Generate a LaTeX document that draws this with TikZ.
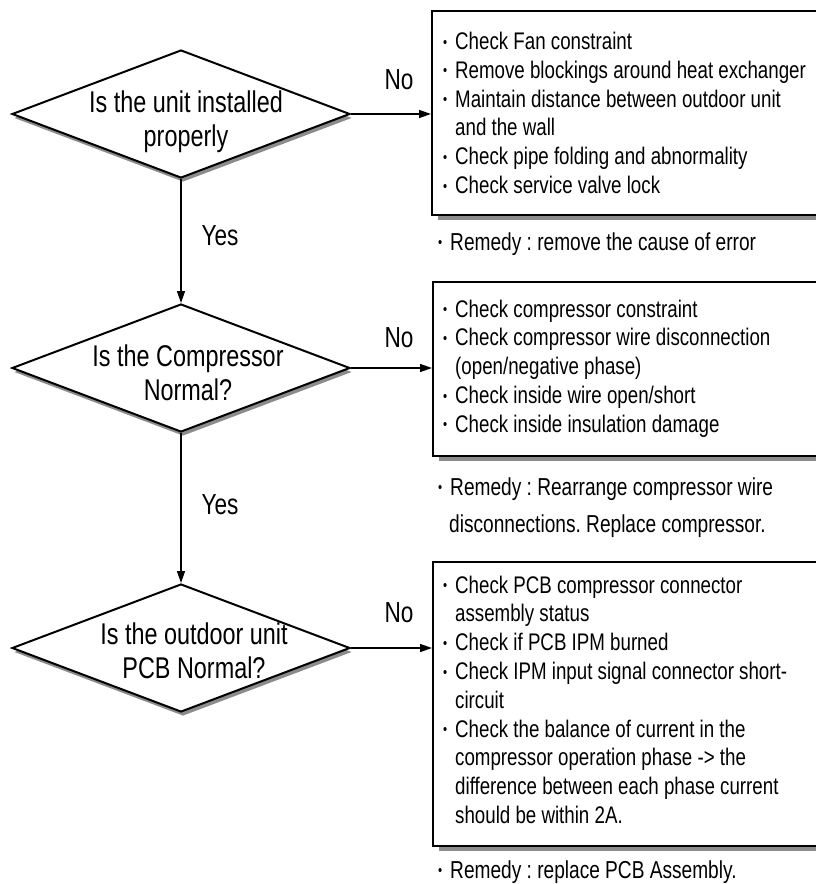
\documentclass[tikz,border=0pt]{standalone}
\usepackage{fontspec}
\setmainfont{Liberation Sans}[FakeStretch=0.78]
\usetikzlibrary{shapes.geometric,shadows,arrows.meta}
\newcommand\bulx{\makebox[12pt][l]{\raisebox{2.4pt}{\fontsize{15}{15}\selectfont\textbullet}}}
\newcommand\indx{\hspace*{12pt}}
\frenchspacing
\begin{document}
\begin{tikzpicture}[x=1pt,y=-1pt,
  dia/.style={shape=diamond, draw, line width=2pt, fill=white, minimum width=338pt, minimum height=128pt, inner sep=0pt,
    drop shadow={shadow xshift=2pt, shadow yshift=-4pt, fill=black!45, opacity=1}},
  boxs/.style={shape=rectangle, draw, line width=2.2pt, fill=white, inner sep=0pt, minimum width=400pt,
    drop shadow={shadow xshift=6pt, shadow yshift=-5pt, fill=black!45, opacity=1}},
  dtext/.style={inner sep=0pt, font=\fontsize{30}{34}\selectfont},
  btext/.style={inner sep=0pt, font=\fontsize{24}{28.8}\selectfont},
  rtext/.style={inner sep=0pt, font=\fontsize{24.5}{37}\selectfont},
  lbl/.style={inner sep=0pt, font=\fontsize{29}{29}\selectfont},
  arr/.style={line width=1.5pt, -{Triangle[length=12pt,width=8pt]}}
]
\useasboundingbox (0,0) rectangle (816,884);

% decisions
\node[dia] (d1) at (181,114) {};
\node[dia] (d2) at (181,368) {};
\node[dia] (d3) at (181,648) {};
\node[dtext, anchor=base] (q1) at (186,112) {\parbox[t]{260pt}{\centering Is the unit installed\\properly}};
\node[dtext, anchor=base] (q2) at (188,366) {\parbox[t]{260pt}{\centering Is the Compressor\\Normal?}};
\node[dtext, anchor=base] (q3) at (194,644) {\parbox[t]{260pt}{\centering Is the outdoor unit\\PCB Normal?}};

% boxes
\node[boxs, minimum height=204pt, anchor=north west] (b1) at (431,10) {};
\node[boxs, minimum height=174pt, anchor=north west] (b2) at (432,281) {};
\node[boxs, minimum height=284pt, anchor=north west] (b3) at (432,561) {};

\node[btext, anchor=base west] (t1) at (443,49.5) {\parbox[t]{370pt}{\raggedright
\bulx Check Fan constraint\\
\bulx Remove blockings around heat exchanger\\
\bulx Maintain distance between outdoor unit\\
\indx and the wall\\
\bulx Check pipe folding and abnormality\\
\bulx Check service valve lock}};

\node[btext, anchor=base west] (t2) at (443,317) {\parbox[t]{370pt}{\raggedright
\bulx Check compressor constraint\\
\bulx Check compressor wire disconnection\\
\indx (open/negative phase)\\
\bulx Check inside wire open/short\\
\bulx Check inside insulation damage}};

\node[btext, anchor=base west] (t3) at (443,593) {\parbox[t]{370pt}{\raggedright
\bulx Check PCB compressor connector\\
\indx assembly status\\
\bulx Check if PCB IPM burned\\
\bulx Check IPM input signal connector short-\\
\indx circuit\\
\bulx Check the balance of current in the\\
\indx compressor operation phase -> the\\
\indx difference between each phase current\\
\indx should be within 2A.}};

% remedies
\node[rtext, anchor=base west] (r1) at (438,250) {\parbox[t]{380pt}{\raggedright\bulx Remedy : remove the cause of error}};
\node[rtext, anchor=base west] (r2) at (438,495) {\parbox[t]{380pt}{\raggedright\bulx Remedy : Rearrange compressor wire\\\hspace*{11pt}disconnections. Replace compressor.}};
\node[rtext, anchor=base west] (r3) at (438,878) {\parbox[t]{380pt}{\raggedright\bulx Remedy : replace PCB Assembly.}};

% connectors
\draw[arr] (d1.east) -- (d1.east -| b1.west);
\draw[arr] (d2.east) -- (d2.east -| b2.west);
\draw[arr] (d3.east) -- (d3.east -| b3.west);
\draw[arr] (d1.south) -- (d2.north);
\draw[arr] (d2.south) -- (d3.north);

% labels
\node[lbl] (n1) at (399,80) {No};
\node[lbl] (n2) at (399,338) {No};
\node[lbl] (n3) at (399,613) {No};
\node[lbl] (y1) at (220,236) {Yes};
\node[lbl] (y2) at (220,505) {Yes};
\end{tikzpicture}
\end{document}
